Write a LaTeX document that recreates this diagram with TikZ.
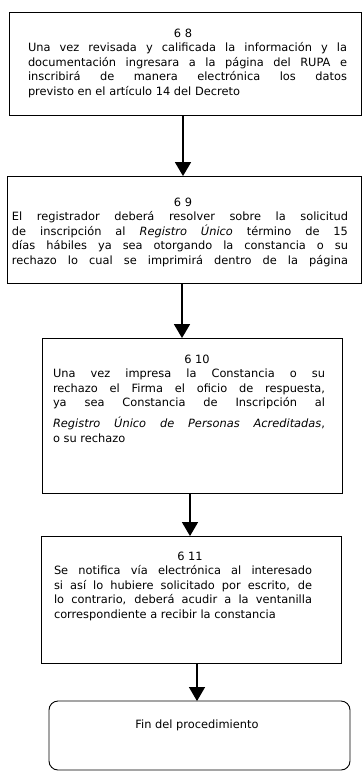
\documentclass[tikz,border=0pt]{standalone}
\usepackage{fontspec}
\setmainfont{DejaVu Sans}
\usetikzlibrary{arrows.meta}
\tikzset{
  box/.style={draw=black, line width=0.9pt, inner sep=0pt},
  endbox/.style={box, rounded corners=9pt},
  txt/.style={inner sep=0pt, align=justify, font=\fontsize{11.4}{14.6}\selectfont},
  arr/.style={line width=1.7pt, -{Triangle[width=16pt,length=14pt]}, shorten >=-0.5pt},
}
\newcommand{\hd}[2]{\makebox[\linewidth][c]{\hspace*{#1}#2}\par}
\begin{document}
\begin{tikzpicture}
\useasboundingbox (0,0) rectangle (362pt,-772pt);
% boxes
\node[box, minimum width=352pt, minimum height=103pt] (b1) at (185pt,-63.5pt) {};
\node[box, minimum width=354pt, minimum height=107pt] (b2) at (184pt,-229.5pt) {};
\node[box, minimum width=300pt, minimum height=155pt] (b3) at (192pt,-415.5pt) {};
\node[box, minimum width=300pt, minimum height=127pt] (b4) at (191pt,-599.5pt) {};
\node[endbox, minimum width=301pt, minimum height=69pt] (b5) at (199.5pt,-735.5pt) {};
% texts
\node[txt, text width=319pt, anchor=north] (t1) at (187.5pt,-28.5pt) {%
\hd{-9pt}{6 8}%
Una vez revisada y calificada la información y la\linebreak
documentación ingresara a la página del RUPA e\linebreak
inscribirá de manera electrónica los datos\linebreak
previsto en el artículo 14 del Decreto};
\node[txt, text width=336pt, anchor=north] (t2) at (180pt,-197.5pt) {%
\hd{6pt}{6 9}%
El registrador deberá resolver sobre la solicitud\linebreak
de inscripción al \textit{Registro Único} término de 15\linebreak
días hábiles ya sea otorgando la constancia o su\linebreak
rechazo lo cual se imprimirá dentro de la página\linebreak\mbox{}};
\node[txt, text width=272pt, anchor=north] (t3) at (189pt,-354.5pt) {%
\hd{16pt}{6 10}%
Una vez impresa la Constancia o su\linebreak
rechazo el Firma el oficio de respuesta,\linebreak
ya sea Constancia de Inscripción al\vspace{6pt}\linebreak
\textit{Registro Único de Personas Acreditadas},\linebreak
o su rechazo};
\node[txt, text width=258pt, anchor=north] (t4) at (183pt,-551.5pt) {%
\hd{14pt}{6 11}%
Se notifica vía electrónica al interesado\linebreak
si así lo hubiere solicitado por escrito, de\linebreak
lo contrario, deberá acudir a la ventanilla\linebreak
correspondiente a recibir la constancia};
\node[font=\fontsize{11.4}{14.6}\selectfont, inner sep=0pt] (t5) at (197pt,-725pt) {Fin del procedimiento};
% connectors
\draw[arr] ([xshift=-2pt]b1.south) -- ([xshift=-2pt]b1.south |- b2.north);
\draw[arr] ([xshift=-2pt]b2.south) -- ([xshift=-2pt]b2.south |- b3.north);
\draw[arr, line width=1.5pt] ([xshift=-2pt]b3.south) -- ([xshift=-2pt]b3.south |- b4.north);
\draw[arr, line width=1.3pt] ([xshift=6pt]b4.south) -- ([xshift=6pt]b4.south |- b5.north);
\end{tikzpicture}
\end{document}
